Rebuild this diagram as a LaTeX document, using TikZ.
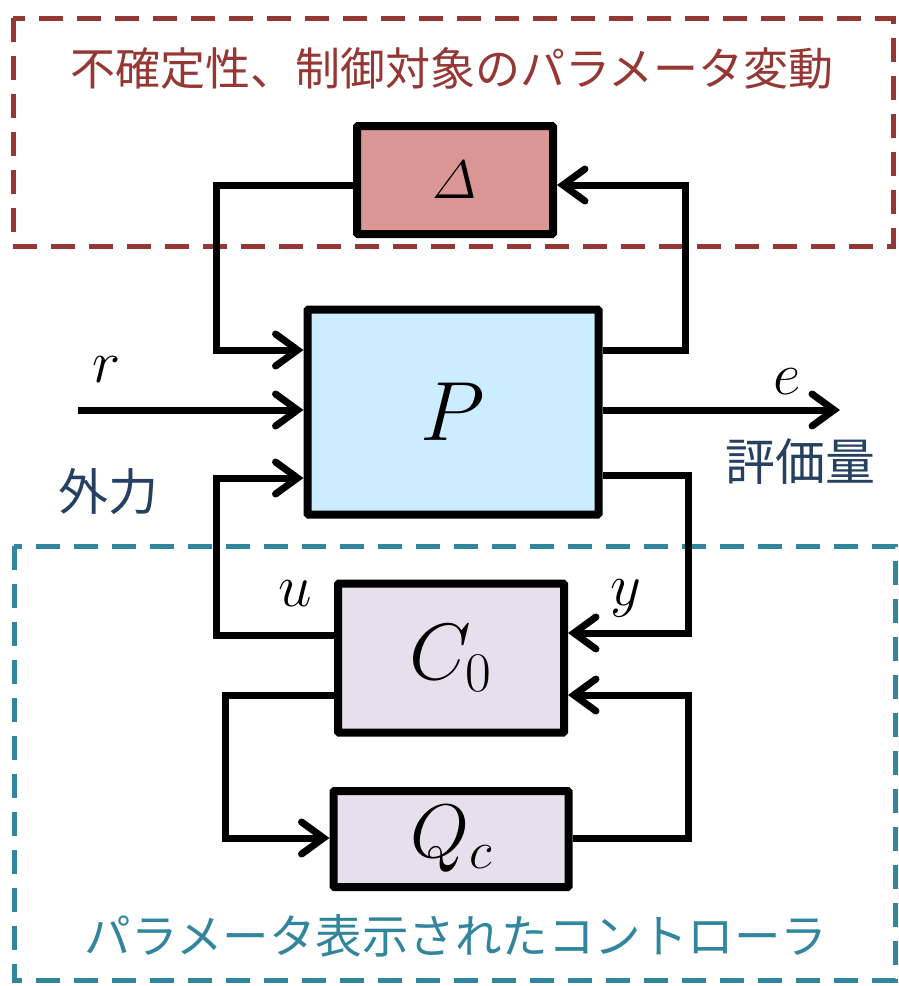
\RequirePackage{fix-cm}
\documentclass[tikz,border=0pt]{standalone}
\usepackage{fontspec}
\newfontfamily\jp{Noto Sans CJK JP}
\usetikzlibrary{arrows.meta}
\definecolor{darkred}{HTML}{953735}
\definecolor{deltafill}{HTML}{D99694}
\definecolor{pfill}{HTML}{CCECFF}
\definecolor{cfill}{HTML}{E5E0EC}
\definecolor{teal2}{HTML}{31859C}
\definecolor{navy}{HTML}{254061}
\begin{document}
\begin{tikzpicture}[x=1pt,y=-1pt,
  blk/.style={draw=black,line width=8pt,inner sep=0pt,rounded corners=1pt},
  arr/.style={line width=7pt,-{Straight Barb[length=22pt,width=32pt,line cap=round]}},
  mlabel/.style={inner sep=0pt,font=\fontsize{60}{60}\selectfont},
  jlabel/.style={inner sep=0pt,text=navy,font=\jp\fontsize{50}{50}\selectfont}
]
\useasboundingbox (0,0) rectangle (898,986);
% dashed regions
\draw[darkred,line width=5pt,dash pattern=on 24pt off 14pt] (13,18) rectangle (893,246);
\draw[teal2,line width=5pt,dash pattern=on 24pt off 14pt] (14,546) rectangle (895,980);
\node[inner sep=0pt,text=darkred,font=\jp\fontsize{45}{45}\selectfont] (t1) at (452,68) {不確定性、制御対象のパラメータ変動};
\node[inner sep=0pt,text=teal2,font=\jp\fontsize{46.5}{46.5}\selectfont] (t2) at (456,936) {パラメータ表示されたコントローラ};
% blocks
\node[blk,fill=deltafill,minimum width=196pt,minimum height=108pt] (D) at (455,180) {\fontsize{54}{54}\selectfont$\mathnormal{\Delta}$};
\node[blk,fill=pfill,minimum width=291pt,minimum height=205pt] (P) at (453,412) {\fontsize{84}{84}\selectfont$P$};
\node[blk,fill=cfill,minimum width=226pt,minimum height=149pt] (C) at (451,658) {\fontsize{80}{80}\selectfont$C_0$};
\node[blk,fill=cfill,minimum width=235pt,minimum height=96pt] (Q) at (451,839) {\fontsize{76}{76}\selectfont$Q_c$};
% coordinates
\coordinate (r0) at (78,410);
\coordinate (e1) at (840,410);
% connectors
\draw[arr] (D.west |- 0,185) -| (216,350) -- (P.west |- 0,350);
\draw[arr] (P.east |- 0,350) -| (685,185) -- (D.east |- 0,185);
\draw[arr] (r0) -- (P.west |- r0);
\draw[arr] (P.east |- e1) -- (e1);
\draw[arr] (C.west |- 0,635) -| (216,478) -- (P.west |- 0,478);
\draw[arr] (P.east |- 0,475) -| (688,633) -- (C.east |- 0,633);
\draw[arr] (C.west |- 0,695) -| (225,838) -- (Q.west |- 0,838);
\draw[arr] (Q.east |- 0,838) -| (688,695) -- (C.east |- 0,695);
% labels
\node[mlabel] (lr) at (107,370) {$r$};
\node[mlabel] (le) at (787,382) {$e$};
\node[mlabel] (lu) at (295,594) {$u$};
\node[mlabel] (ly) at (626,598) {$y$};
\node[jlabel] (gai) at (108,492) {外力};
\node[jlabel] (hyo) at (800,462) {評価量};
\end{tikzpicture}
\end{document}
